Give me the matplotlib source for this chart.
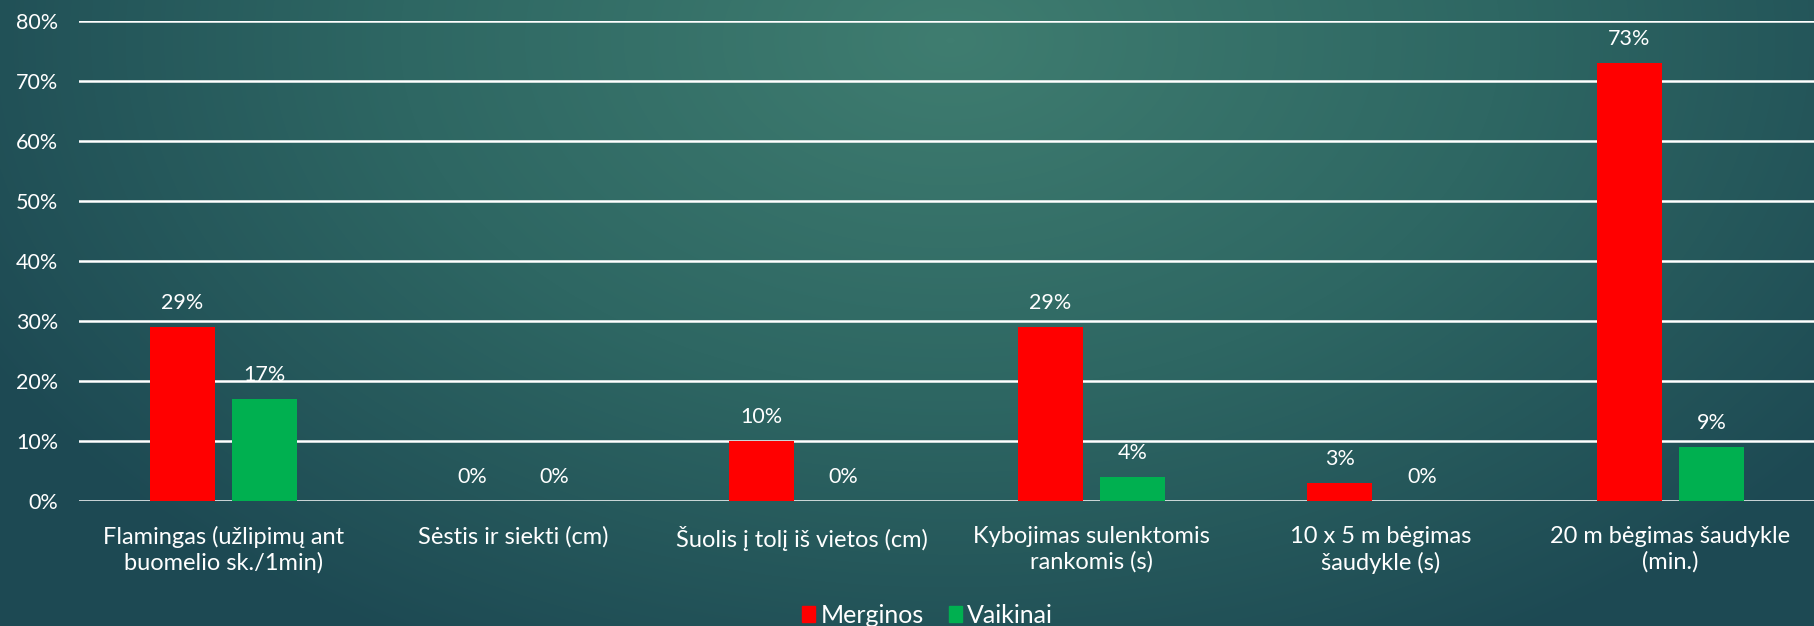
import numpy as np
import matplotlib.pyplot as plt
from matplotlib.patches import Patch
from matplotlib.colors import LinearSegmentedColormap

# Data
categories = [
    "Flamingas (užlipimų ant\nbuomelio sk./1min)",
    "Sėstis ir siekti (cm)",
    "Šuolis į tolį iš vietos (cm)",
    "Kybojimas sulenktomis\nrankomis (s)",
    "10 x 5 m bėgimas\nšaudykle (s)",
    "20 m bėgimas šaudykle\n(min.)",
]
merginos = [0.29, 0.00, 0.10, 0.29, 0.03, 0.73]
vaikinai = [0.17, 0.00, 0.00, 0.04, 0.00, 0.09]
series_names = ["Merginos", "Vaikinai"]
yticks = [0, 0.1, 0.2, 0.3, 0.4, 0.5, 0.6, 0.7, 0.8]

RED = "#FF0000"
GREEN = "#00B050"
plt.rcParams["font.family"] = ["Lato", "DejaVu Sans"]

fig = plt.figure(figsize=(18.15, 6.26), dpi=100)

# radial gradient background
bg = fig.add_axes([0, 0, 1, 1], zorder=-10)
yy, xx = np.mgrid[0:626, 0:1815]
r = np.sqrt(((xx - 950) / 1100.0) ** 2 + ((yy - 40) / 700.0) ** 2)
cmap = LinearSegmentedColormap.from_list("bg", ["#3f7d70", "#2e6763", "#1d4953"])
bg.imshow(np.clip(r, 0, 1), cmap=cmap, aspect="auto", extent=[0, 1, 0, 1], origin="upper")
bg.axis("off")

ax = fig.add_axes([0.0435, 0.1997, 0.9565, 0.7667])
ax.patch.set_alpha(0)
x = np.arange(len(categories))
w = 0.224
off = 0.142
b1 = ax.bar(x - off, merginos, w, color=RED, zorder=3)
b2 = ax.bar(x + off, vaikinai, w, color=GREEN, zorder=3)

for bars, vals in ((b1, merginos), (b2, vaikinai)):
    for b, v in zip(bars, vals):
        ax.annotate(f"{v * 100:.0f}%", (b.get_x() + b.get_width() / 2, v),
                    xytext=(0, 10), textcoords="offset points",
                    ha="center", va="bottom", color="white", fontsize=15.5)

ax.set_xlim(-0.5, len(categories) - 0.5)
ax.set_ylim(0, 0.8)
ax.set_yticks(yticks)
ax.set_yticklabels([f"{t * 100:.0f}%" for t in yticks])
ax.yaxis.grid(True, color="white", linewidth=1.8, zorder=0)
ax.set_axisbelow(True)
ax.set_xticks(x)
ax.set_xticklabels(categories, linespacing=1.25, fontsize=17)
ax.tick_params(axis="both", length=0, colors="white")
ax.tick_params(axis="y", pad=15, labelsize=15.5)
ax.tick_params(axis="x", pad=18)
for s in ax.spines.values():
    s.set_visible(False)

handles = [Patch(color=RED, label=series_names[0]), Patch(color=GREEN, label=series_names[1])]
fig.legend(handles=handles, loc="center", bbox_to_anchor=(0.511, 0.017), ncol=2,
           frameon=False, fontsize=18, labelcolor="white", handlelength=0.55,
           handleheight=0.55, handletextpad=0.2, columnspacing=1.0)

fig.savefig("out.png", dpi=100)
